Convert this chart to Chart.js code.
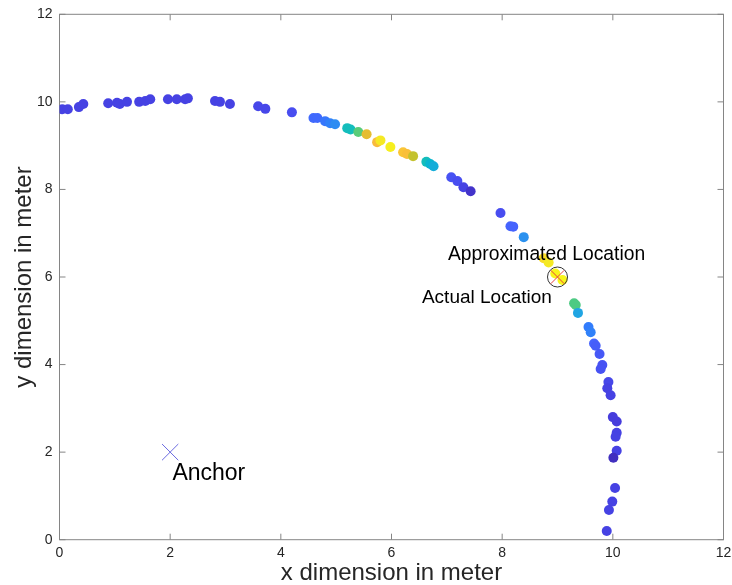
<!DOCTYPE html>
<html>
<head>
<meta charset="utf-8">
<title>Localization</title>
<script src="https://cdn.jsdelivr.net/npm/chart.js@4.4.1/dist/chart.umd.min.js"></script>
<style>
	html, body { margin: 0; background: #fff; overflow: hidden; }
	/* a little wider than the window: Chart.js keeps room for the "12" label on the right */
	#wrap { width: 736px; height: 585px; position: relative; }
</style>
</head>
<body>
<div id="wrap"><canvas id="locChart"></canvas></div>
<script>
// measured points (meters) and their colour level (0..63 on parula)
const xs = [0.05, 0.15, 0.35, 0.43, 0.88, 1.04, 1.09, 1.22, 1.44, 1.55, 1.64, 1.96, 2.12, 2.27, 2.32, 2.81, 2.90, 3.08, 3.59, 3.72,
	4.20, 4.59, 4.66, 4.80, 4.89, 4.98, 5.20, 5.26, 5.40, 5.55, 5.74, 5.80, 5.98, 6.21, 6.28, 6.39, 6.63, 6.70, 6.76, 7.08,
	7.19, 7.30, 7.43, 7.97, 8.15, 8.20, 8.39, 8.75, 8.84, 8.96, 9.09, 9.30, 9.33, 9.37, 9.56, 9.60, 9.66, 9.69, 9.76, 9.81,
	9.78, 9.92, 9.90, 9.96, 10.00, 10.07, 10.07, 10.05, 10.07, 10.01, 10.04, 9.99, 9.93, 9.89];
const ys = [9.83, 9.83, 9.88, 9.95, 9.97, 9.98, 9.95, 10.00, 10.00, 10.02, 10.06, 10.06, 10.06, 10.06, 10.08, 10.02, 10.00, 9.95, 9.90, 9.84,
	9.76, 9.63, 9.63, 9.56, 9.51, 9.49, 9.40, 9.37, 9.31, 9.26, 9.08, 9.12, 8.97, 8.85, 8.81, 8.76, 8.63, 8.58, 8.53, 8.28,
	8.19, 8.05, 7.96, 7.46, 7.16, 7.15, 6.91, 6.43, 6.33, 6.08, 5.93, 5.40, 5.36, 5.18, 4.86, 4.74, 4.48, 4.43, 4.24, 3.99,
	3.90, 3.60, 3.46, 3.30, 2.80, 2.70, 2.44, 2.35, 2.03, 1.87, 1.18, 0.87, 0.68, 0.20];
const level = [6, 6, 6, 6, 6, 6, 6, 6, 6, 6, 6, 6, 6, 6, 6, 6, 6, 6, 7, 7,
	8, 13, 13, 15, 17, 19, 31, 31, 39, 50, 52, 60, 61, 54, 53, 47, 31, 28, 26, 9,
	8, 6, 3, 8, 12, 12, 20, 58, 60, 62, 62, 38, 38, 24, 16, 17, 12, 11, 10, 9,
	9, 7, 6, 6, 5, 5, 6, 6, 6, 2, 6, 6, 6, 6];

const anchor = [2, 2];
const approxLoc = [9.0, 6.0];
const actualLoc = [9.0, 6.0];

const xTicks = [0, 2, 4, 6, 8, 10, 12];
const yTicks = [0, 2, 4, 6, 8, 10, 12];

// parula, every 4th entry
const parula = [
	[0.2422, 0.1504, 0.6603], [0.2706, 0.2147, 0.8364], [0.2813, 0.3006, 0.9414], [0.2699, 0.3892, 0.9906],
	[0.1963, 0.4847, 0.9892], [0.1687, 0.5703, 0.9359], [0.1248, 0.6459, 0.8883], [0.0297, 0.7082, 0.8163],
	[0.0964, 0.7500, 0.7120], [0.2161, 0.7843, 0.5923], [0.3909, 0.8029, 0.4354], [0.6174, 0.7876, 0.2612],
	[0.8203, 0.7498, 0.1535], [0.9728, 0.7298, 0.2394], [0.9892, 0.8136, 0.1885], [0.9597, 0.9135, 0.1423],
	[0.9769, 0.9839, 0.0805]
];

function parulaColor(idx) {
	let p = Math.min(idx / 4, 15.999);
	let i = Math.floor(p), f = p - i;
	let a = parula[i], b = parula[Math.min(i + 1, 16)];
	if (i === 15) f = (idx - 60) / 3;
	const c = [0, 1, 2].map(k => Math.round(255 * (a[k] + (b[k] - a[k]) * f)));
	return 'rgb(' + c.join(',') + ')';
}

const FONT = '"Liberation Sans", Arial, Helvetica, sans-serif';

// invisible tick marks, only used to push the labels off the axis
const hiddenGrid = len => ({
	display: true,
	color: 'rgba(0,0,0,0)',
	drawOnChartArea: false,
	drawTicks: true,
	tickLength: len
});

const boxPlugin = {
	id: 'boxPlugin',
	beforeDatasetsDraw(chart) {
		const { ctx, chartArea: a, scales } = chart;
		ctx.save();
		ctx.strokeStyle = '#858585';
		ctx.lineWidth = 1;
		ctx.strokeRect(a.left, a.top, a.right - a.left, a.bottom - a.top);
		const tl = 6;
		ctx.beginPath();
		xTicks.forEach(v => {
			const px = scales.x.getPixelForValue(v);
			ctx.moveTo(px, a.bottom); ctx.lineTo(px, a.bottom - tl);
			ctx.moveTo(px, a.top); ctx.lineTo(px, a.top + tl);
		});
		yTicks.forEach(v => {
			const py = scales.y.getPixelForValue(v);
			ctx.moveTo(a.left, py); ctx.lineTo(a.left + tl, py);
			ctx.moveTo(a.right, py); ctx.lineTo(a.right - tl, py);
		});
		ctx.stroke();
		ctx.restore();
	},
	afterDatasetsDraw(chart) {
		const { ctx, scales } = chart;
		const labels = [
			{ t: 'Anchor', x: 2.04, y: 1.5, size: 23 },
			{ t: 'Approximated Location', x: 7.02, y: 6.5, size: 19.3 },
			{ t: 'Actual Location', x: 6.55, y: 5.52, size: 19 }
		];
		ctx.save();
		ctx.fillStyle = '#000';
		ctx.textAlign = 'left';
		ctx.textBaseline = 'middle';
		labels.forEach(l => {
			ctx.font = l.size + 'px ' + FONT;
			ctx.fillText(l.t, scales.x.getPixelForValue(l.x), scales.y.getPixelForValue(l.y));
		});
		ctx.restore();
	}
};

const ctx = document.getElementById('locChart').getContext('2d');

new Chart(ctx, {
	type: 'scatter',
	data: {
		datasets: [{
			label: 'Actual Location',
			data: [{ x: actualLoc[0], y: actualLoc[1] }],
			pointStyle: 'crossRot',
			pointRadius: 9.5,
			borderColor: '#e8413c',
			borderWidth: 1
		}, {
			label: 'Approximated Location',
			data: [{ x: approxLoc[0], y: approxLoc[1] }],
			pointStyle: 'circle',
			pointRadius: 10,
			backgroundColor: 'rgba(0,0,0,0)',
			borderColor: '#333',
			borderWidth: 1
		}, {
			label: 'Anchor',
			data: [{ x: anchor[0], y: anchor[1] }],
			pointStyle: 'crossRot',
			pointRadius: 11.5,
			borderColor: '#6a6ae0',
			borderWidth: 1
		}, {
			label: 'Measurements',
			data: xs.map((x, i) => ({ x: x, y: ys[i] })),
			pointRadius: 5,
			pointBorderWidth: 0,
			backgroundColor: level.map(parulaColor),
			borderColor: level.map(parulaColor)
		}]
	},
	options: {
		responsive: true,
		maintainAspectRatio: false,
		animation: false,
		layout: { padding: { top: 14.3, right: 9.3, left: 0, bottom: 0 } },
		plugins: {
			legend: { display: false },
			tooltip: { enabled: false }
		},
		scales: {
			x: {
				type: 'linear',
				min: 0,
				max: 12,
				afterBuildTicks: s => { s.ticks = xTicks.map(v => ({ value: v })); },
				afterFit: s => { s.height = 45.3; },
				grid: hiddenGrid(5),
				border: { display: false },
				ticks: { padding: 0, color: '#262626', font: { family: FONT, size: 14 } },
				title: {
					display: true,
					text: 'x dimension in meter',
					color: '#262626',
					padding: { top: 0, bottom: 0 },
					font: { family: FONT, size: 24, lineHeight: 1 }
				}
			},
			y: {
				type: 'linear',
				min: 0,
				max: 12,
				afterBuildTicks: s => { s.ticks = yTicks.map(v => ({ value: v })); },
				afterFit: s => { s.width = 59.5; },
				grid: hiddenGrid(7),
				border: { display: false },
				ticks: { padding: 0, color: '#262626', font: { family: FONT, size: 14 } },
				title: {
					display: true,
					text: 'y dimension in meter',
					color: '#262626',
					padding: { top: 12.5, bottom: 0 },
					font: { family: FONT, size: 24, lineHeight: 1 }
				}
			}
		}
	},
	plugins: [boxPlugin]
});
</script>
</body>
</html>
